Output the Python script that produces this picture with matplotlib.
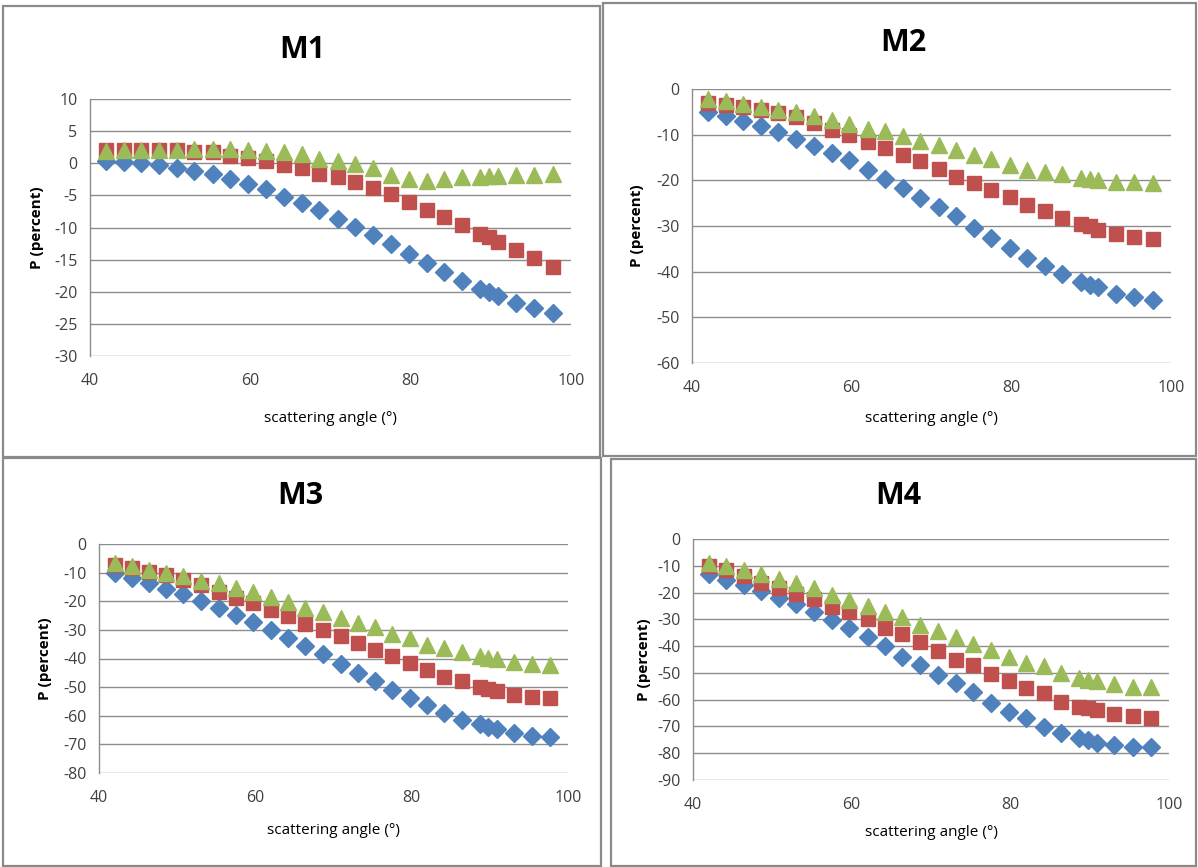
import matplotlib
matplotlib.use("Agg")
import matplotlib.pyplot as plt
from matplotlib.patches import Rectangle

W, H = 1198, 867

angles = [42.0, 44.2, 46.4, 48.6, 50.8, 53.0, 55.3, 57.5, 59.7, 62.0, 64.2, 66.4, 68.6,
          70.9, 73.1, 75.3, 77.5, 79.8, 82.0, 84.2, 86.4, 88.7, 89.8, 90.9, 93.1, 95.4, 97.7]

m1_blue = [0.3, 0.2, 0.0, -0.3, -0.7, -1.2, -1.6, -2.5, -3.2, -4.0, -5.2, -6.2, -7.3, -8.6,
           -9.9, -11.2, -12.6, -14.1, -15.6, -17.0, -18.3, -19.6, -20.1, -20.6, -21.7, -22.6, -23.3]
m1_red = [2.0, 2.0, 2.0, 2.0, 2.0, 1.8, 1.7, 1.2, 0.8, 0.4, -0.2, -0.8, -1.6, -2.2,
          -2.9, -3.8, -4.8, -6.1, -7.2, -8.3, -9.6, -11.0, -11.5, -12.2, -13.5, -14.8, -16.1]
m1_green = [1.9, 2.0, 2.0, 2.1, 2.1, 2.2, 2.2, 2.2, 2.0, 1.9, 1.7, 1.5, 0.7, 0.3,
            -0.1, -0.8, -1.8, -2.5, -2.7, -2.5, -2.2, -2.1, -2.0, -2.0, -1.9, -1.8, -1.7]

m2_blue = [-5.1, -5.9, -7.0, -8.0, -9.5, -11.0, -12.4, -14.0, -15.5, -17.7, -19.6, -21.7, -23.8,
           -25.9, -27.9, -30.5, -32.7, -34.9, -36.9, -38.8, -40.5, -42.2, -42.9, -43.4, -44.8, -45.6, -46.2]
m2_red = [-3.1, -3.4, -4.0, -4.5, -5.3, -6.2, -7.5, -8.9, -10.0, -11.5, -12.9, -14.4, -15.7,
          -17.6, -19.2, -20.6, -22.1, -23.7, -25.4, -26.8, -28.3, -29.6, -30.1, -30.9, -31.7, -32.5, -32.9]
m2_green = [-2.2, -2.7, -3.3, -4.0, -4.5, -5.1, -6.0, -6.7, -7.6, -8.8, -9.3, -10.4, -11.3,
            -12.2, -13.3, -14.4, -15.4, -16.6, -17.7, -18.1, -18.6, -19.4, -19.8, -19.9, -20.3, -20.3, -20.6]

m3_blue = [-10.2, -12.0, -13.5, -15.8, -17.4, -19.9, -22.2, -24.8, -27.1, -30.0, -32.7, -35.8, -38.4,
           -41.9, -45.1, -47.7, -50.9, -53.8, -56.2, -59.1, -61.4, -62.8, -64.0, -64.7, -66.0, -67.0, -67.4]
m3_red = [-7.3, -8.5, -9.7, -10.8, -12.6, -14.3, -16.6, -18.7, -20.7, -23.0, -25.3, -27.9, -30.0,
          -32.3, -34.7, -37.0, -39.3, -41.6, -44.0, -46.3, -48.0, -49.8, -50.7, -51.5, -52.7, -53.3, -53.8]
m3_green = [-6.7, -7.6, -9.1, -10.0, -11.2, -12.8, -13.7, -15.2, -16.6, -18.4, -20.1, -22.4, -23.6,
            -25.9, -27.7, -29.1, -31.4, -32.9, -35.2, -36.4, -37.6, -39.3, -39.7, -40.1, -41.1, -41.9, -42.4]

m4_blue = [-13.1, -15.2, -17.1, -19.3, -22.1, -24.2, -27.1, -30.2, -33.3, -36.7, -40.1, -43.9, -47.0,
           -50.7, -53.9, -57.0, -61.1, -64.5, -67.0, -70.1, -72.3, -74.4, -75.1, -76.1, -76.9, -77.6, -77.6]
m4_red = [-10.0, -11.7, -13.7, -16.5, -18.3, -20.4, -22.4, -25.4, -27.4, -29.9, -33.3, -35.4, -38.3,
          -42.0, -45.1, -47.0, -50.4, -52.9, -55.7, -57.6, -60.7, -62.6, -63.2, -63.8, -65.3, -66.1, -66.7]
m4_green = [-9.0, -10.2, -11.5, -13.1, -15.0, -16.5, -18.3, -20.8, -22.7, -24.9, -27.1, -29.2, -32.0,
            -34.5, -36.7, -39.2, -41.4, -43.9, -46.4, -47.6, -50.1, -52.0, -52.6, -53.2, -54.1, -55.1, -55.1]

titles = ["M1", "M2", "M3", "M4"]
xticks = [40, 60, 80, 100]
yticks_list = [list(range(-30, 11, 5)), list(range(-60, 1, 10)),
               list(range(-80, 1, 10)), list(range(-90, 1, 10))]
series = [(m1_blue, m1_red, m1_green), (m2_blue, m2_red, m2_green),
          (m3_blue, m3_red, m3_green), (m4_blue, m4_red, m4_green)]

# layout in pixels: panel border (x0, y0, x1, y1), plot area (x0, y0, x1, y1), title center
panels = [
    dict(border=(3, 6, 600, 457), area=(90, 99, 571, 356), title=(302, 50), xlabel_y=418, ylabel_x=37),
    dict(border=(603, 3, 1196, 456), area=(692, 89, 1171, 363), title=(903, 43), xlabel_y=418, ylabel_x=637),
    dict(border=(3, 458, 601, 866), area=(99, 544, 568, 773), title=(300, 496), xlabel_y=830, ylabel_x=45),
    dict(border=(611, 459, 1196, 866), area=(693, 539, 1169, 780), title=(898, 496), xlabel_y=832, ylabel_x=644),
]

blue = "#4F81BD"
red = "#C0504D"
green = "#9BBB59"
grid = "#8C8C8C"
font = "Open Sans"

fig = plt.figure(figsize=(W / 100, H / 100), dpi=100)


def fx(px):
    return px / W


def fy(py):
    return 1 - py / H


for i, p in enumerate(panels):
    bx0, by0, bx1, by1 = p["border"]
    fig.add_artist(Rectangle((fx(bx0), fy(by1)), fx(bx1 - bx0), (by1 - by0) / H,
                             transform=fig.transFigure, fill=False,
                             edgecolor="#8A8A8A", linewidth=1.6, zorder=0))
    ax0, ay0, ax1, ay1 = p["area"]
    ax = fig.add_axes([fx(ax0), fy(ay1), fx(ax1 - ax0), (ay1 - ay0) / H])
    b, r, g = series[i]
    ax.plot(angles, b, linestyle="none", marker="D", ms=9.5, color=blue, zorder=3)
    ax.plot(angles, r, linestyle="none", marker="s", ms=10.5, color=red, zorder=4)
    ax.plot(angles, g, linestyle="none", marker="^", ms=11, color=green, zorder=5)
    yt = yticks_list[i]
    ax.set_xlim(40, 100)
    ax.set_ylim(yt[0], yt[-1])
    ax.set_xticks(xticks)
    ax.set_yticks(yt)
    ax.set_xticklabels([str(v) for v in xticks], fontsize=11.5, color="#404040", family=font)
    ax.set_yticklabels([str(v) for v in yt], fontsize=11.5, color="#404040", family=font)
    ax.tick_params(axis="x", length=0, pad=12)
    ax.tick_params(axis="y", length=0, pad=9)
    ax.yaxis.grid(True, color=grid, linewidth=1.0)
    ax.set_axisbelow(True)
    for s in ["top", "right", "bottom"]:
        ax.spines[s].set_visible(False)
    ax.spines["left"].set_color(grid)
    ax.spines["left"].set_linewidth(1.0)
    tx, ty = p["title"]
    fig.text(fx(tx), fy(ty), titles[i], ha="center", va="center",
             fontsize=22, fontweight="bold", family=font)
    fig.text(fx((ax0 + ax1) / 2), fy(p["xlabel_y"]), "scattering angle (°)",
             ha="center", va="center", fontsize=11, family=font)
    fig.text(fx(p["ylabel_x"]), fy((ay0 + ay1) / 2), "P (percent)", rotation=90,
             ha="center", va="center", fontsize=11, fontweight="bold", family=font)

fig.savefig("out.png", dpi=100)
